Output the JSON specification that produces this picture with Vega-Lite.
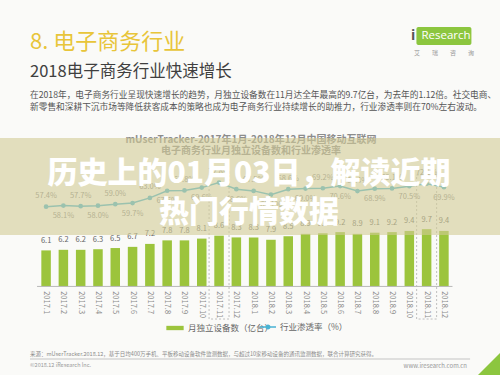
{
  "$schema": "https://vega.github.io/schema/vega-lite/v6.json",
  "width": 500,
  "height": 291,
  "autosize": {"type": "none"},
  "padding": {"top": 84, "left": 0, "right": 0, "bottom": 0},
  "background": "#fafaf8",
  "config": {"font": "Noto Sans CJK SC", "view": {"stroke": null}},
  "datasets": {
    "monthly": [
      {"month": "2017.1", "devices": 6.1, "rate": 57.4},
      {"month": "2017.2", "devices": 6.2, "rate": 58.1},
      {"month": "2017.3", "devices": 6.2, "rate": 57.7},
      {"month": "2017.4", "devices": 6.3, "rate": 58.0},
      {"month": "2017.5", "devices": 6.5, "rate": 59.0},
      {"month": "2017.6", "devices": 6.7, "rate": 59.7},
      {"month": "2017.7", "devices": 7.2, "rate": 63.0},
      {"month": "2017.8", "devices": 7.8, "rate": 67.6},
      {"month": "2017.9", "devices": 7.8, "rate": 67.8},
      {"month": "2017.10", "devices": 8.1, "rate": 69.6},
      {"month": "2017.11", "devices": 8.6, "rate": 72.8},
      {"month": "2017.12", "devices": 8.3, "rate": 68.6},
      {"month": "2018.1", "devices": 8.3, "rate": 67.5},
      {"month": "2018.2", "devices": 7.9, "rate": 65.1},
      {"month": "2018.3", "devices": 8.5, "rate": 68.6},
      {"month": "2018.4", "devices": 8.9, "rate": 69.0},
      {"month": "2018.5", "devices": 9.0, "rate": 69.2},
      {"month": "2018.6", "devices": 9.2, "rate": 70.6},
      {"month": "2018.7", "devices": 8.9, "rate": 67.4},
      {"month": "2018.8", "devices": 9.1, "rate": 68.9},
      {"month": "2018.9", "devices": 9.2, "rate": 69.1},
      {"month": "2018.10", "devices": 9.4, "rate": 70.5},
      {"month": "2018.11", "devices": 9.7, "rate": 72.1},
      {"month": "2018.12", "devices": 9.4, "rate": 69.9}
    ]
  },
  "data": {"name": "monthly"},
  "resolve": {"scale": {"y": "independent"}},
  "layer": [
    {
      "layer": [
        {
          "data": {"values": [{"month": "2017.11"}, {"month": "2018.11"}]},
          "mark": {"type": "rect", "width": {"band": 2.1}, "fillOpacity": 0, "stroke": "#b0b0b0", "strokeDash": [2, 2], "strokeWidth": 0.8},
          "encoding": {
            "x": {"field": "month", "type": "ordinal", "axis": null},
            "y": {"datum": 18.87, "type": "quantitative", "axis": null, "scale": {"domain": [-15, 34.28], "nice": false, "zero": false}},
            "y2": {"datum": -5.52}
          }
        },
        {
          "mark": {"type": "bar"},
          "encoding": {
            "x": {"field": "month", "type": "ordinal", "axis": null, "sort": null,
              "scale": {"domain": ["2017.1","2017.2","2017.3","2017.4","2017.5","2017.6","2017.7","2017.8","2017.9","2017.10","2017.11","2017.12","2018.1","2018.2","2018.3","2018.4","2018.5","2018.6","2018.7","2018.8","2018.9","2018.10","2018.11","2018.12"],
                "range": [37, 453], "paddingInner": 0.45, "paddingOuter": 0.25, "align": 0.5, "round": false}},
            "y": {"field": "devices", "type": "quantitative", "axis": null, "scale": {"domain": [-15, 34.28], "nice": false, "zero": false}},
            "y2": {"datum": 0},
            "fill": {"datum": "月独立设备数（亿台）", "type": "nominal", "scale": {"range": ["#9cc43c"]},
              "legend": {"orient": "none", "legendX": 166, "legendY": 235, "title": null, "symbolType": "M-1,-0.25H1V0.25H-1Z", "symbolSize": 300, "labelFontSize": 8.5, "labelColor": "#666666", "labelFont": "Noto Sans CJK SC", "symbolStrokeWidth": 0}}
          }
        },
        {
          "mark": {"type": "text", "dy": -9.5, "fontSize": 7.5, "fill": "#666666", "baseline": "middle"},
          "encoding": {
            "x": {"field": "month", "type": "ordinal", "axis": null},
            "y": {"field": "devices", "type": "quantitative", "axis": null, "scale": {"domain": [-15, 34.28], "nice": false, "zero": false}},
            "text": {"field": "devices", "type": "quantitative", "format": ".1f"}
          }
        },
        {
          "mark": {"type": "text", "angle": 90, "align": "left", "baseline": "middle", "fontSize": 7.5, "fill": "#8a8a8a"},
          "encoding": {
            "x": {"field": "month", "type": "ordinal", "axis": null},
            "y": {"datum": -0.8, "type": "quantitative", "axis": null, "scale": {"domain": [-15, 34.28], "nice": false, "zero": false}},
            "text": {"field": "month", "type": "nominal"}
          }
        },
        {
          "data": {"values": [{}]},
          "mark": {"type": "rule", "stroke": "#b8b8b8", "strokeWidth": 1},
          "encoding": {
            "x": {"datum": "2017.1", "type": "ordinal", "bandPosition": -0.45, "axis": null},
            "x2": {"datum": "2018.12", "bandPosition": 1.4},
            "y": {"datum": 0, "type": "quantitative", "axis": null, "scale": {"domain": [-15, 34.28], "nice": false, "zero": false}}
          }
        },
        {
          "data": {"values": [{"t": "8. 电子商务行业"}]},
          "mark": {"type": "text", "align": "left", "baseline": "middle", "fontSize": 22, "fill": "#e8c53a"},
          "encoding": {
            "x": {"datum": "2017.1", "type": "ordinal", "bandPosition": -1.19, "axis": null},
            "y": {"datum": 41.39, "type": "quantitative", "axis": null, "scale": {"domain": [-15, 34.28], "nice": false, "zero": false}},
            "text": {"field": "t", "type": "nominal"}
          }
        },
        {
          "data": {"values": [{"t": "2018电子商务行业快速增长"}]},
          "mark": {"type": "text", "align": "left", "baseline": "middle", "fontSize": 16.5, "fill": "#3f3f3f"},
          "encoding": {
            "x": {"datum": "2017.1", "type": "ordinal", "bandPosition": -1.19, "axis": null},
            "y": {"datum": 36.31, "type": "quantitative", "axis": null, "scale": {"domain": [-15, 34.28], "nice": false, "zero": false}},
            "text": {"field": "t", "type": "nominal"}
          }
        },
        {
          "data": {"values": [{"t": ["在2018年，电子商务行业呈现快速增长的趋势，月独立设备数在11月达全年最高的9.7亿台，为去年的1.12倍。社交电商、", "新零售和深耕下沉市场等降低获客成本的策略也成为电子商务行业持续增长的助推力，行业渗透率则在70%左右波动。"]}]},
          "mark": {"type": "text", "align": "left", "baseline": "middle", "fontSize": 8.7, "lineHeight": 12, "fill": "#555555"},
          "encoding": {
            "x": {"datum": "2017.1", "type": "ordinal", "bandPosition": -1.19, "axis": null},
            "y": {"datum": 32.41, "type": "quantitative", "axis": null, "scale": {"domain": [-15, 34.28], "nice": false, "zero": false}},
            "text": {"field": "t", "type": "nominal"}
          }
        },
        {
          "data": {"values": [{"t": ["mUserTracker-2017年1月-2018年12月中国移动互联网", "电子商务行业月独立设备数和行业渗透率"]}]},
          "mark": {"type": "text", "align": "center", "baseline": "middle", "fontSize": 10, "fontWeight": "bold", "lineHeight": 11.5, "fill": "#8c8c8c"},
          "encoding": {
            "x": {"datum": "2018.1", "type": "ordinal", "bandPosition": 0.22, "axis": null},
            "y": {"datum": 24.88, "type": "quantitative", "axis": null, "scale": {"domain": [-15, 34.28], "nice": false, "zero": false}},
            "text": {"field": "t", "type": "nominal"}
          }
        },
        {
          "data": {"values": [{"t": "来源：mUserTracker.2018.12，基于日均400万手机、平板移动设备软件监测数据，与超过10家移动设备的通讯监测数据，联合计算研究获得。"}]},
          "mark": {"type": "text", "align": "left", "baseline": "middle", "fontSize": 5.5, "fill": "#8a8a8a"},
          "encoding": {
            "x": {"datum": "2017.1", "type": "ordinal", "bandPosition": -1.19, "axis": null},
            "y": {"datum": -11.36, "type": "quantitative", "axis": null, "scale": {"domain": [-15, 34.28], "nice": false, "zero": false}},
            "text": {"field": "t", "type": "nominal"}
          }
        },
        {
          "data": {"values": [{}]},
          "mark": {"type": "rule", "stroke": "#c4c4c4", "strokeWidth": 1},
          "encoding": {
            "x": {"datum": "2017.1", "type": "ordinal", "bandPosition": -1.19, "axis": null},
            "x2": {"datum": "2018.12", "bandPosition": 3.25},
            "y": {"datum": -12.29, "type": "quantitative", "axis": null, "scale": {"domain": [-15, 34.28], "nice": false, "zero": false}}
          }
        },
        {
          "data": {"values": [{"t": "©2018.12 iResearch Inc."}]},
          "mark": {"type": "text", "align": "left", "baseline": "middle", "fontSize": 5.5, "fill": "#999999"},
          "encoding": {
            "x": {"datum": "2017.1", "type": "ordinal", "bandPosition": -1.19, "axis": null},
            "y": {"datum": -13.39, "type": "quantitative", "axis": null, "scale": {"domain": [-15, 34.28], "nice": false, "zero": false}},
            "text": {"field": "t", "type": "nominal"}
          }
        },
        {
          "data": {"values": [{"t": "www.iresearch.com.cn"}]},
          "mark": {"type": "text", "align": "right", "baseline": "middle", "fontSize": 6, "fill": "#999999"},
          "encoding": {
            "x": {"datum": "2018.12", "type": "ordinal", "bandPosition": 2.93, "axis": null},
            "y": {"datum": -13.56, "type": "quantitative", "axis": null, "scale": {"domain": [-15, 34.28], "nice": false, "zero": false}},
            "text": {"field": "t", "type": "nominal"}
          }
        },
        {
          "data": {"values": [{}]},
          "mark": {"type": "point", "shape": "M-1,1L1,-1L1,1Z", "filled": true, "fill": "#8cc63f", "opacity": 1, "size": 484, "strokeWidth": 0},
          "encoding": {
            "x": {"datum": "2018.12", "type": "ordinal", "bandPosition": 5.24, "axis": null},
            "y": {"datum": -13.14, "type": "quantitative", "axis": null, "scale": {"domain": [-15, 34.28], "nice": false, "zero": false}}
          }
        },
        {
          "data": {"values": [{}]},
          "mark": {"type": "rect", "width": {"band": 5.78}, "fill": "#8cc63f", "cornerRadius": 2},
          "encoding": {
            "x": {"datum": "2018.12", "type": "ordinal", "axis": null},
            "y": {"datum": 43.93, "type": "quantitative", "axis": null, "scale": {"domain": [-15, 34.28], "nice": false, "zero": false}},
            "y2": {"datum": 40.88}
          }
        },
        {
          "data": {"values": [{"t": "Research"}]},
          "mark": {"type": "text", "align": "center", "baseline": "middle", "fontSize": 11.5, "fill": "#ffffff", "font": "Open Sans"},
          "encoding": {
            "x": {"datum": "2018.12", "type": "ordinal", "bandPosition": 0.72, "axis": null},
            "y": {"datum": 42.4, "type": "quantitative", "axis": null, "scale": {"domain": [-15, 34.28], "nice": false, "zero": false}},
            "text": {"field": "t", "type": "nominal"}
          }
        },
        {
          "data": {"values": [{"t": "i"}]},
          "mark": {"type": "text", "align": "center", "baseline": "middle", "fontSize": 14, "fontWeight": "bold", "fill": "#555555", "font": "Open Sans"},
          "encoding": {
            "x": {"datum": "2018.10", "type": "ordinal", "bandPosition": 0.89, "axis": null},
            "y": {"datum": 42.4, "type": "quantitative", "axis": null, "scale": {"domain": [-15, 34.28], "nice": false, "zero": false}},
            "text": {"field": "t", "type": "nominal"}
          }
        },
        {
          "data": {"values": [{"t": "艾　　瑞　　咨　　询"}]},
          "mark": {"type": "text", "align": "center", "baseline": "middle", "fontSize": 6, "fill": "#999999"},
          "encoding": {
            "x": {"datum": "2018.12", "type": "ordinal", "bandPosition": 0.5, "axis": null},
            "y": {"datum": 39.53, "type": "quantitative", "axis": null, "scale": {"domain": [-15, 34.28], "nice": false, "zero": false}},
            "text": {"field": "t", "type": "nominal"}
          }
        }
      ]
    },
    {
      "layer": [
        {
          "mark": {"type": "line", "strokeWidth": 1.5},
          "encoding": {
            "x": {"field": "month", "type": "ordinal", "axis": null},
            "y": {"field": "rate", "type": "quantitative", "axis": null, "scale": {"domain": [-50.5, 136.0], "nice": false, "zero": false}},
            "stroke": {"datum": "行业渗透率（%）", "type": "nominal", "scale": {"range": ["#4ab3d3"]},
              "legend": {"orient": "none", "legendX": 260, "legendY": 235, "title": null, "symbolType": "M-1,-0.09H1V0.09H-1Z M0.32,0A0.32,0.32 0 1 1 -0.32,0A0.32,0.32 0 1 1 0.32,0Z", "symbolSize": 256, "symbolFillColor": "#4ab3d3", "symbolStrokeWidth": 0, "labelFontSize": 8.5, "labelColor": "#666666", "labelFont": "Noto Sans CJK SC"}}
          }
        },
        {
          "mark": {"type": "point", "filled": true, "fill": "#4ab3d3", "opacity": 1, "size": 22},
          "encoding": {
            "x": {"field": "month", "type": "ordinal", "axis": null},
            "y": {"field": "rate", "type": "quantitative", "axis": null, "scale": {"domain": [-50.5, 136.0], "nice": false, "zero": false}}
          }
        },
        {
          "transform": [
            {"window": [{"op": "row_number", "as": "idx"}]},
            {"filter": "datum.idx % 2 == 1"},
            {"calculate": "format(datum.rate, '.1f') + '%'", "as": "label"}
          ],
          "mark": {"type": "text", "dy": -10.5, "baseline": "middle", "fontSize": 7.5, "fill": "#8a8a8a"},
          "encoding": {
            "x": {"field": "month", "type": "ordinal", "axis": null},
            "y": {"field": "rate", "type": "quantitative", "axis": null, "scale": {"domain": [-50.5, 136.0], "nice": false, "zero": false}},
            "text": {"field": "label", "type": "nominal"}
          }
        },
        {
          "transform": [
            {"window": [{"op": "row_number", "as": "idx"}]},
            {"filter": "datum.idx % 2 == 0"},
            {"calculate": "format(datum.rate, '.1f') + '%'", "as": "label"}
          ],
          "mark": {"type": "text", "dy": 10.5, "baseline": "middle", "fontSize": 7.5, "fill": "#8a8a8a"},
          "encoding": {
            "x": {"field": "month", "type": "ordinal", "axis": null},
            "y": {"field": "rate", "type": "quantitative", "axis": null, "scale": {"domain": [-50.5, 136.0], "nice": false, "zero": false}},
            "text": {"field": "label", "type": "nominal"}
          }
        }
      ]
    },
    {
      "layer": [
        {
          "data": {"values": [{}]},
          "mark": {"type": "rect", "fill": "#d2cb96", "opacity": 0.6},
          "encoding": {
            "y": {"datum": 25.13, "type": "quantitative", "axis": null, "scale": {"domain": [-15, 34.28], "nice": false, "zero": false}},
            "y2": {"datum": 8.71}
          }
        },
        {
          "data": {"values": [{"t": ["历史上的01月03日，解读近期", "热门行情数据"]}]},
          "mark": {"type": "text", "align": "center", "baseline": "middle", "fontSize": 30, "fontWeight": 900, "lineHeight": 39, "fill": "#ffffff"},
          "encoding": {
            "x": {"datum": "2018.1", "type": "ordinal", "bandPosition": 0.01, "axis": null},
            "y": {"datum": 19.12, "type": "quantitative", "axis": null, "scale": {"domain": [-15, 34.28], "nice": false, "zero": false}},
            "text": {"field": "t", "type": "nominal"}
          }
        }
      ]
    }
  ]
}
